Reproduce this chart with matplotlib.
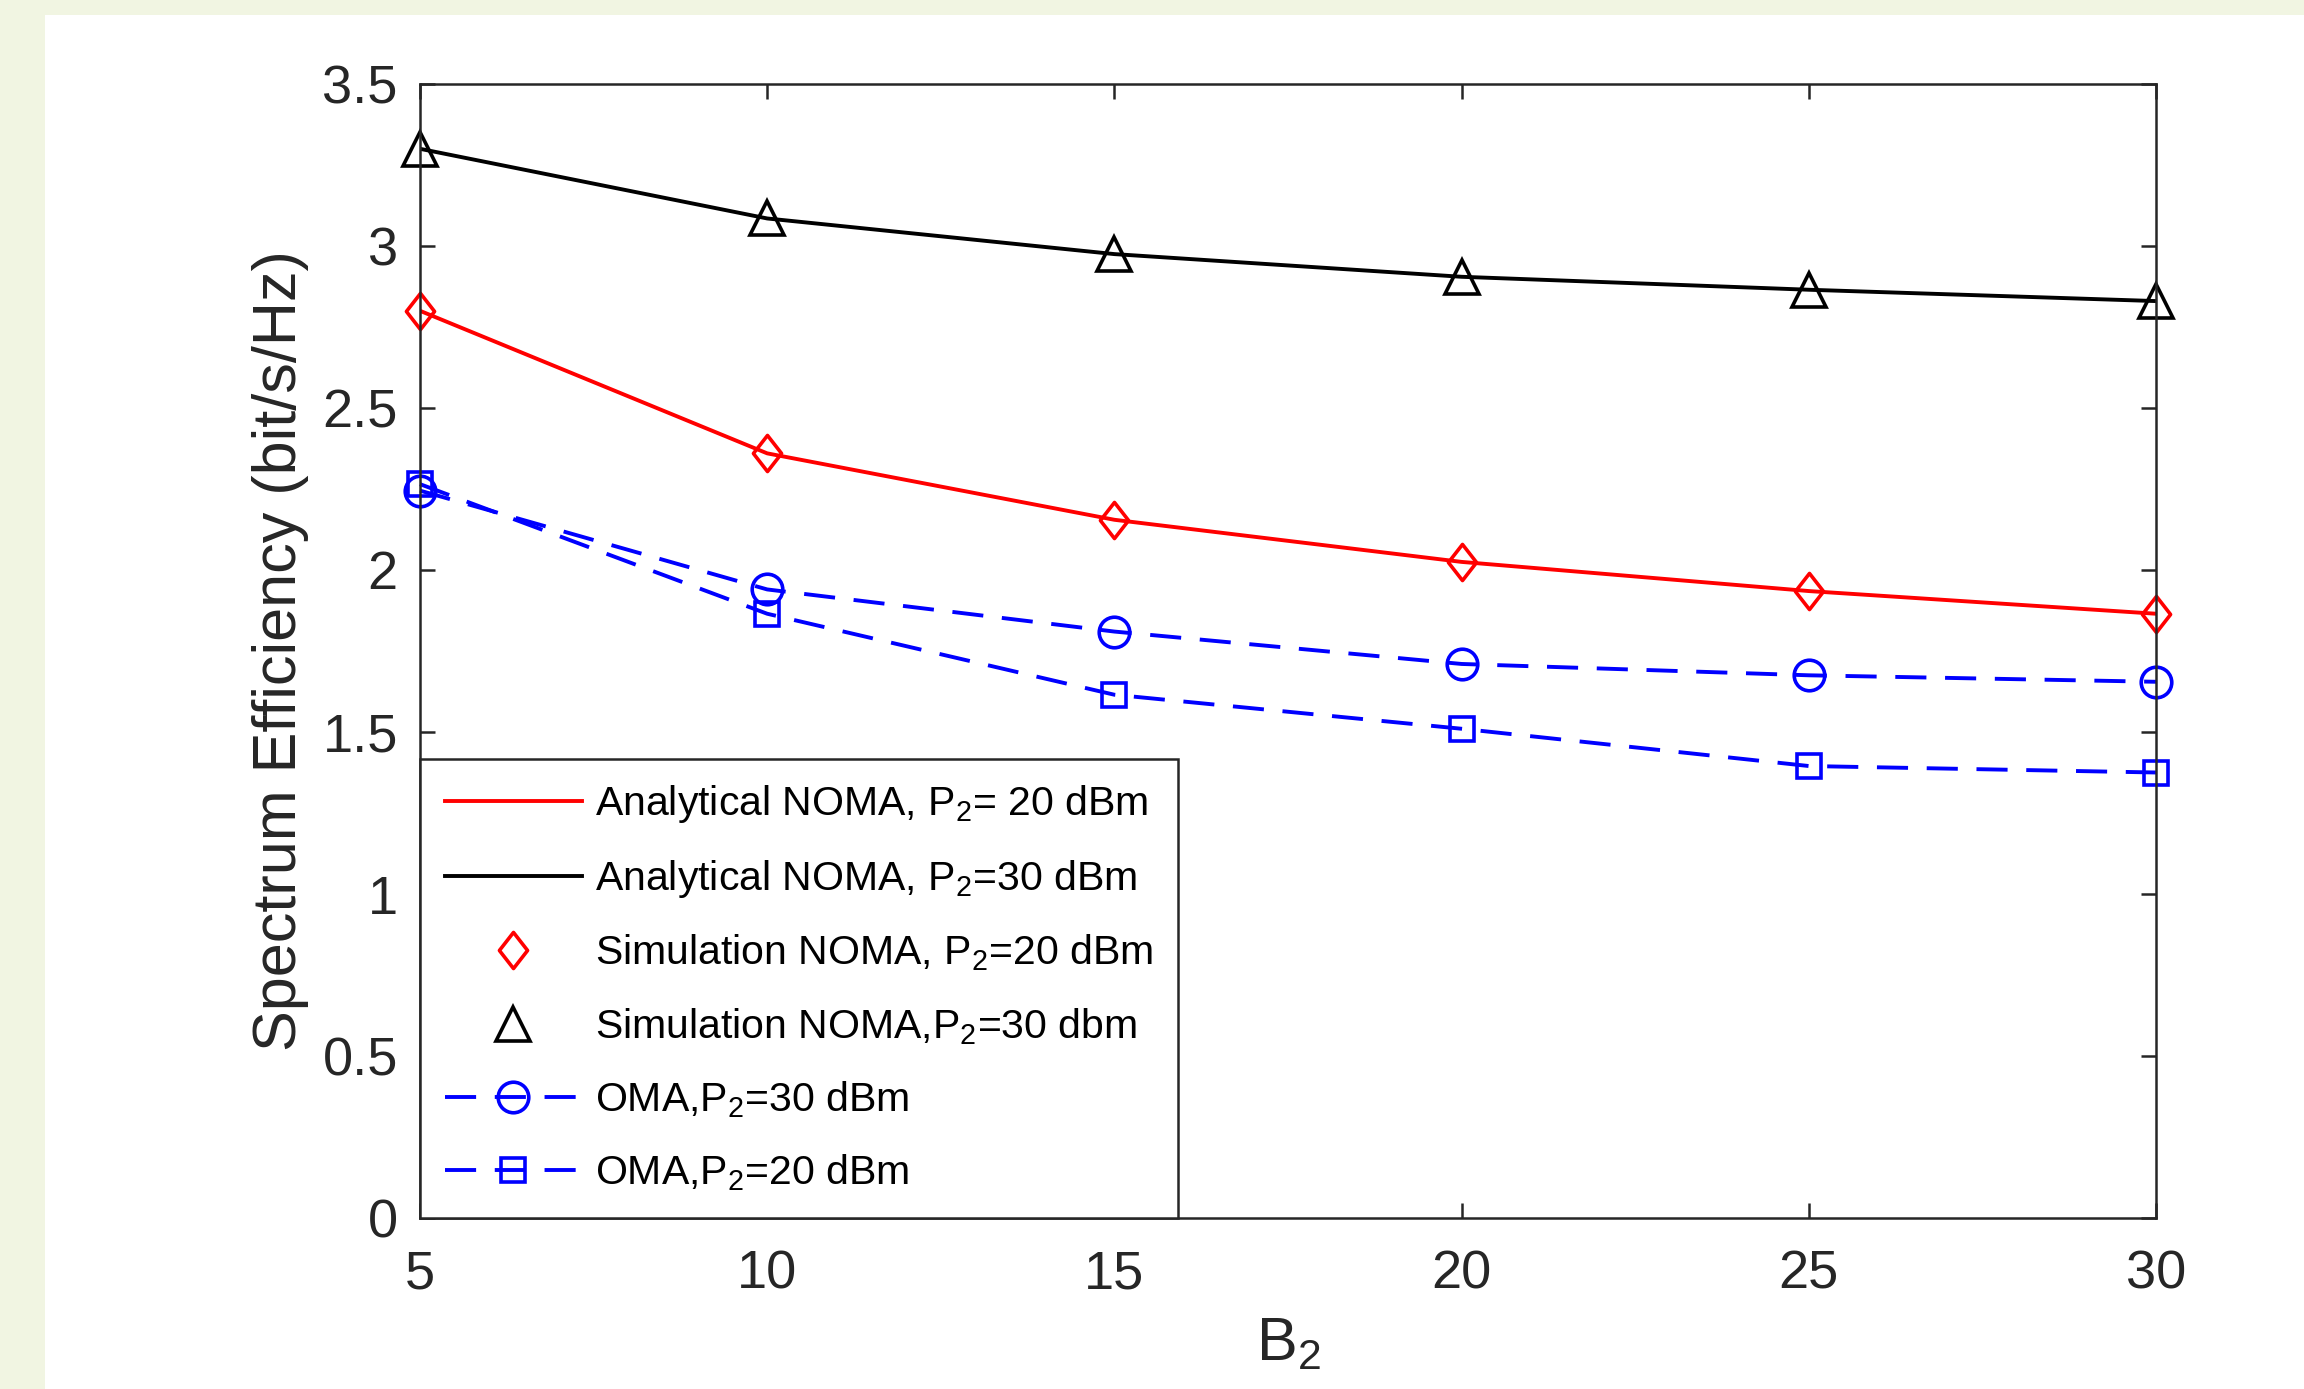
import numpy as np
import matplotlib
matplotlib.use('Agg')
import matplotlib.pyplot as plt
from matplotlib.patches import Rectangle
from matplotlib.path import Path

# B2 values on the x axis
b2 = [5, 10, 15, 20, 25, 30]

# spectrum efficiency (bit/s/Hz)
noma_20 = [2.80, 2.36, 2.155, 2.025, 1.935, 1.865]
noma_30 = [3.30, 3.085, 2.975, 2.905, 2.865, 2.83]
oma_30 = [2.245, 1.94, 1.81, 1.71, 1.675, 1.655]
oma_20 = [2.265, 1.865, 1.615, 1.51, 1.395, 1.375]

x_ticks = [5, 10, 15, 20, 25, 30]
y_ticks = [0, 0.5, 1, 1.5, 2, 2.5, 3, 3.5]

plt.rcParams['font.family'] = ['Liberation Sans', 'DejaVu Sans']
plt.rcParams['mathtext.fontset'] = 'custom'
plt.rcParams['mathtext.rm'] = 'Liberation Sans'
plt.rcParams['mathtext.it'] = 'Liberation Sans:italic'
plt.rcParams['mathtext.bf'] = 'Liberation Sans:bold'

dark = '#262626'
diamond = Path([(0, 1), (0.78, 0), (0, -1), (-0.78, 0), (0, 1)],
               [Path.MOVETO, Path.LINETO, Path.LINETO, Path.LINETO, Path.CLOSEPOLY])

fig = plt.figure(figsize=(11.52, 6.945), dpi=200)
fig.patch.set_facecolor('white')
green = '#f1f5e2'
fig.add_artist(Rectangle((0, 0), 45 / 2304, 1, transform=fig.transFigure,
                         facecolor=green, edgecolor='none', zorder=0))
fig.add_artist(Rectangle((0, 1 - 15 / 1389), 1, 15 / 1389, transform=fig.transFigure,
                         facecolor=green, edgecolor='none', zorder=0))

ax = fig.add_axes([420 / 2304, (1389 - 1218) / 1389, 1736 / 2304, (1218 - 84) / 1389])

lw = 1.4
dash = (0, (8, 4.8))
# analytical curves (lines only)
l1, = ax.plot(b2, noma_20, color='red', lw=lw, label=r'Analytical NOMA, P$_2$= 20 dBm')
l2, = ax.plot(b2, noma_30, color='black', lw=lw, label=r'Analytical NOMA, P$_2$=30 dBm')
# simulation markers
m1, = ax.plot(b2, noma_20, ls='none', marker=diamond, ms=13, mfc='none', mec='red',
              mew=1.3, clip_on=False, label=r'Simulation NOMA, P$_2$=20 dBm')
m2, = ax.plot(b2, noma_30, ls='none', marker='^', ms=12, mfc='none', mec='black',
              mew=1.3, clip_on=False, label=r'Simulation NOMA,P$_2$=30 dbm')
# OMA curves
o1, = ax.plot(b2, oma_30, color='blue', lw=lw, ls=dash, marker='o', ms=11,
              mfc='none', mew=1.3, clip_on=False, label=r'OMA,P$_2$=30 dBm')
o2, = ax.plot(b2, oma_20, color='blue', lw=lw, ls=dash, marker='s', ms=8.5,
              mfc='none', mew=1.3, clip_on=False, label=r'OMA,P$_2$=20 dBm')

ax.set_xlim(5, 30)
ax.set_ylim(0, 3.5)
ax.set_xticks(x_ticks)
ax.set_yticks(y_ticks)
ax.set_xticklabels([str(v) for v in x_ticks])
ax.set_yticklabels(['0', '0.5', '1', '1.5', '2', '2.5', '3', '3.5'])
ax.tick_params(direction='in', length=5.5, width=0.9, color=dark, labelcolor=dark,
               labelsize=19.5, top=True, right=True, pad=8)
ax.tick_params(axis='x', pad=11.5)
for sp in ax.spines.values():
    sp.set_color(dark)
    sp.set_linewidth(0.9)

ax.set_xlabel(r'B$_2$', fontsize=22, color=dark, labelpad=5.8)
ax.set_ylabel('Spectrum Efficiency (bit/s/Hz)', fontsize=22, color=dark, labelpad=5)

leg = ax.legend(handles=[l1, l2, m1, m2, o1, o2], loc='lower left',
                bbox_to_anchor=(0, 0), borderaxespad=0, fontsize=14.75,
                handlelength=3.35, handletextpad=0.32, borderpad=0.6,
                labelspacing=0.8, fancybox=False, framealpha=1)
leg.get_frame().set_edgecolor(dark)
leg.get_frame().set_linewidth(0.9)
for t in leg.get_texts():
    t.set_color('black')

fig.savefig('out.png', dpi=200)
